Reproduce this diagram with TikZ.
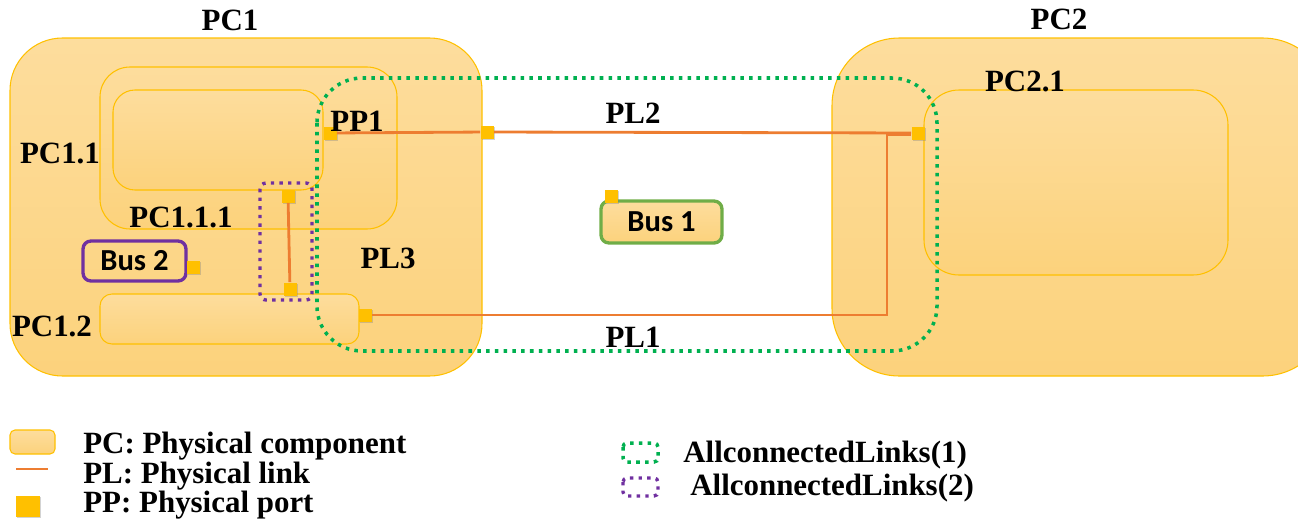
\documentclass[tikz,border=0pt]{standalone}
\usepackage{fontspec}
\setmainfont{Liberation Serif}
\newfontfamily\busfont{Carlito}
\usetikzlibrary{shadows}
\definecolor{pctop}{RGB}{253,221,157}
\definecolor{pcbot}{RGB}{252,210,124}
\definecolor{pcline}{RGB}{255,192,0}
\definecolor{portcol}{RGB}{255,192,0}
\definecolor{linkcol}{RGB}{237,125,49}
\definecolor{allgreen}{RGB}{0,176,80}
\definecolor{allpurple}{RGB}{112,48,160}
\definecolor{busgreen}{RGB}{112,173,71}
\begin{document}
\begin{tikzpicture}[x=0.02cm,y=-0.02cm,
    pc/.style={draw=pcline,line width=0.6pt,top color=pctop,bottom color=pcbot},
    port/.style={fill=portcol,minimum size=0.26cm,inner sep=0pt,
      drop shadow={opacity=0.35,shadow xshift=0.7pt,shadow yshift=-0.7pt}},
    link/.style={draw=linkcol,line width=1.6pt},
    lbl/.style={font=\fontsize{17.6}{20}\selectfont\bfseries,inner sep=0pt},
    bus/.style={font=\busfont\fontsize{17.4}{20}\selectfont\bfseries,
      rounded corners=0.16cm,line width=1.9pt,inner sep=0pt},
    allone/.style={draw=allgreen,line width=2pt,dash pattern=on 2pt off 3pt},
    alltwo/.style={draw=allpurple,line width=1.9pt,dash pattern=on 1.9pt off 3pt}]
            \useasboundingbox (0,0) rectangle (1298,521);
            % components
            \draw[pc,rounded corners=1.05cm] (10,38) rectangle (482,376);
            \draw[pc,rounded corners=0.6cm] (100,67) rectangle (397,229);
            \draw[pc,rounded corners=0.44cm] (113,90) rectangle (323,190);
            \draw[pc,rounded corners=0.24cm] (100,294) rectangle (359,344);
            \draw[pc,rounded corners=1.35cm] (832,38) rectangle (1330,376);
            \draw[pc,rounded corners=0.7cm] (924,90) rectangle (1228,275);
            % connected links
            \draw[allone,rounded corners=0.9cm] (317,78) rectangle (937,351);
            \draw[alltwo,rounded corners=0.12cm] (260,183) rectangle (312,300);
            % buses
            \node[bus,draw=allpurple,minimum width=2.06cm,minimum height=0.8cm] (bustwo) at (134.5,261) {Bus 2};
            \node[bus,draw=busgreen,top color=pctop,bottom color=pcbot,minimum width=2.42cm,minimum height=0.84cm] (busone) at (661.5,222) {Bus 1};
            % ports
            \node[port] (pp1) at (330,133) {};
            \node[port] (pcone) at (487,132) {};
            \node[port] (pctwoone) at (918,133) {};
            \node[port] (pconetwo) at (365,315) {};
            \node[port] (ppa) at (288,196) {};
            \node[port] (ppb) at (290,289) {};
            \node[port] (ppbustwo) at (193,267) {};
            \node[port] (ppbusone) at (611,196) {};
            \coordinate (bend) at (887,315);
            % links
            \draw[link] (pp1) -- (pcone);
            \draw[link] (pcone) -- (pctwoone);
            \draw[link] ([yshift=-0.04cm]pctwoone.west) -| (bend) -- (pconetwo);
            \draw[link] (ppa) -- (ppb);
            % labels
            \node[lbl] (lpcone) at (230,20) {PC1};
            \node[lbl] (lpconeone) at (60,153) {PC1.1};
            \node[lbl] (lpconeoneone) at (181,217) {PC1.1.1};
            \node[lbl] (lpconetwo) at (52,326) {PC1.2};
            \node[lbl] (lppone) at (357,121) {PP1};
            \node[lbl] (lplthree) at (388,258) {PL3};
            \node[lbl] (lpltwo) at (633,113) {PL2};
            \node[lbl] (lplone) at (633,337) {PL1};
            \node[lbl] (lpctwo) at (1059,19) {PC2};
            \node[lbl] (lpctwoone) at (1025,81) {PC2.1};
            % legend
            \draw[pc,rounded corners=0.1cm] (10,430) rectangle (55,454);
            \draw[link] (16,469) -- (48,469);
            \node[port,minimum width=0.48cm,minimum height=0.42cm] (keypp) at (28,506) {};
            \draw[allone,rounded corners=0.08cm] (623,443) rectangle (658,462);
            \draw[alltwo,rounded corners=0.08cm] (623,478) rectangle (658,496);
            \node[lbl,anchor=base west] (keypc) at (83,453) {PC: Physical component};
            \node[lbl,anchor=base west] (keypl) at (83,483) {PL: Physical link};
            \node[lbl,anchor=base west] (keyport) at (83,512) {PP: Physical port};
            \node[lbl,anchor=base west] (keyallone) at (683,462) {AllconnectedLinks(1)};
            \node[lbl,anchor=base west] (keyalltwo) at (690,495) {AllconnectedLinks(2)};
        \end{tikzpicture}
\end{document}
